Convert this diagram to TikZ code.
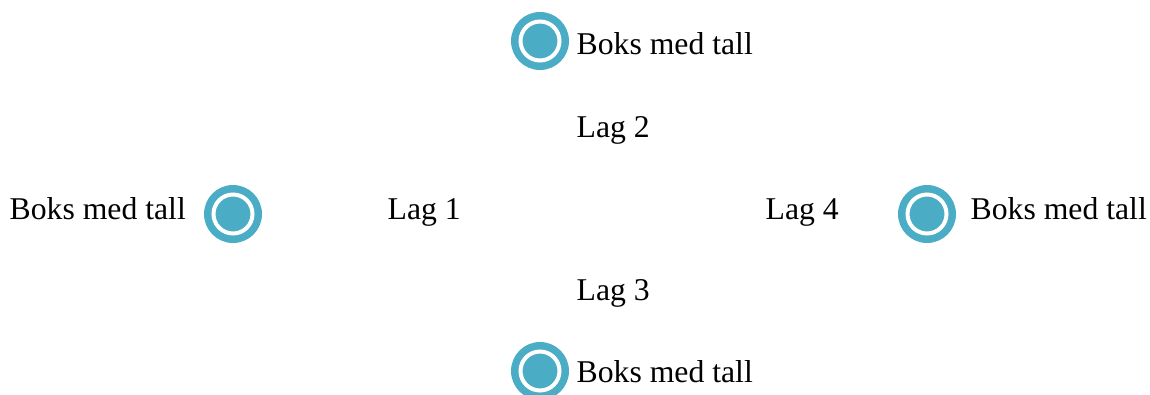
\documentclass[tikz,border=0pt]{standalone}
\usepackage{fontspec}
\setmainfont{Liberation Serif}
\definecolor{aqua}{HTML}{4BACC6}
\begin{document}
\begin{tikzpicture}[x=1pt,y=-1pt,
  lbl/.style={inner sep=0pt, anchor=base west, font=\fontsize{31.7}{38}\selectfont},
  dot/.style={circle, fill=aqua, minimum size=58pt, inner sep=0pt,
    path picture={\draw[white, line width=4pt] (path picture bounding box.center) circle (19.5pt);}}]
\clip (0,0) rectangle (1150,394);
\useasboundingbox (0,0) rectangle (1150,394);
% circles
\node[dot] (ctop) at (540,41) {};
\node[dot] (cleft) at (233,214) {};
\node[dot] (cright) at (927,214) {};
\node[dot] (cbot) at (540,371) {};
% labels
\node[lbl] (ttop) at (576.5,54) {Boks med tall};
\node[lbl] (tleft) at (9.5,219) {Boks med tall};
\node[lbl] (tright) at (970.5,219) {Boks med tall};
\node[lbl] (tbot) at (576.5,382) {Boks med tall};
\node[lbl] (lag2) at (576.5,137) {Lag 2};
\node[lbl] (lag1) at (387.5,219) {Lag 1};
\node[lbl] (lag4) at (765.5,219) {Lag 4};
\node[lbl] (lag3) at (576.5,300) {Lag 3};
\end{tikzpicture}
\end{document}
